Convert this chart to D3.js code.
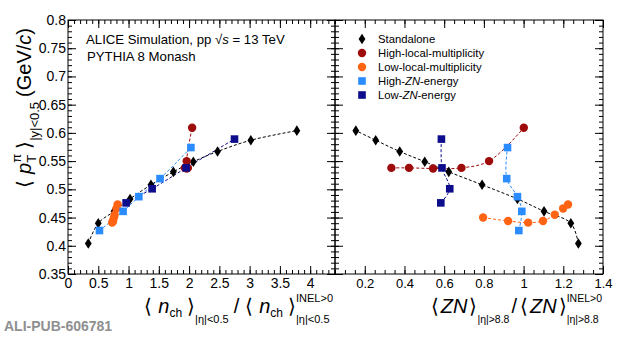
<!DOCTYPE html>
<html>
<head>
<meta charset="utf-8">
<script src="https://cdn.jsdelivr.net/npm/d3@7"></script>
<style>
body { margin: 0; background: #fff; }
text { font-family: "Liberation Sans", Arial, sans-serif; }
</style>
</head>
<body>
<svg id="chart" width="620" height="338"></svg>
<script>
/* values, one entry per event class */
var ptStandalone  = [0.404, 0.440, 0.461, 0.483, 0.508, 0.531, 0.549, 0.567, 0.587, 0.604];
var nchStandalone = [0.335, 0.50, 0.76, 1.025, 1.37, 1.74, 2.07, 2.47, 3.02, 3.78];
var znStandalone  = [1.276, 1.238, 1.103, 0.969, 0.791, 0.623, 0.502, 0.376, 0.255, 0.155];

var ptHighLocal  = [0.538, 0.538, 0.537, 0.538, 0.550, 0.609];
var nchHighLocal = [1.93, 1.95, 1.96, 1.98, 1.96, 2.05];
var znHighLocal  = [0.334, 0.423, 0.544, 0.687, 0.826, 1.001];

var ptLowLocal  = [0.450, 0.444, 0.441, 0.444, 0.455, 0.466, 0.473];
var nchLowLocal = [0.76, 0.74, 0.73, 0.745, 0.77, 0.80, 0.82];
var znLowLocal  = [0.796, 0.922, 1.023, 1.098, 1.157, 1.199, 1.224];

var ptHighZN  = [0.427, 0.461, 0.487, 0.519, 0.574];
var nchHighZN = [0.52, 0.91, 1.17, 1.52, 2.03];
var znHighZN  = [0.976, 0.991, 0.969, 0.915, 0.919];

var ptLowZN  = [0.476, 0.501, 0.538, 0.589];
var nchLowZN = [0.96, 1.39, 1.95, 2.75];
var znLowZN  = [0.583, 0.628, 0.589, 0.586];

var yTicks  = [0.35, 0.4, 0.45, 0.5, 0.55, 0.6, 0.65, 0.7, 0.75, 0.8];
var xLTicks = [0, 0.5, 1, 1.5, 2, 2.5, 3, 3.5, 4];
var xRTicks = [0.2, 0.4, 0.6, 0.8, 1, 1.2, 1.4];

var series = [
  {name: "Standalone", pt: ptStandalone, nch: nchStandalone, zn: znStandalone, color: "#000000", shape: "diamond"},
  {name: "High-local-multiplicity", pt: ptHighLocal, nch: nchHighLocal, zn: znHighLocal, color: "#9e0b0b", shape: "circle"},
  {name: "Low-local-multiplicity", pt: ptLowLocal, nch: nchLowLocal, zn: znLowLocal, color: "#ff6414", shape: "circle"},
  {name: "High-ZN-energy", pt: ptHighZN, nch: nchHighZN, zn: znHighZN, color: "#2b8cff", shape: "square"},
  {name: "Low-ZN-energy", pt: ptLowZN, nch: nchLowZN, zn: znLowZN, color: "#0c0c8c", shape: "square"}
];

var FONT = '"Liberation Sans", Arial, sans-serif';
var svg = d3.select("#chart");

/* frame edges of the two panels */
var fTop = 20, fBottom = 274, fLeft = 68, fMid = 335, fRight = 603;
var y  = d3.scaleLinear().domain([0.35, 0.8]).range([fBottom, fTop]);
var xL = d3.scaleLinear().domain([0, 4.41]).range([fLeft, fMid]);
var xR = d3.scaleLinear().domain([0.05, 1.4]).range([fMid, fRight]);

var fmt = d3.format("~g");

/* ROOT style: all ticks point into the frame */
function axis(gen, scale, vals, len, pos, labels, fsize, pad) {
  var a = gen(scale).tickValues(vals).tickSize(-len).tickPadding(pad || 3)
    .tickFormat(labels ? fmt : "");
  var g = svg.append("g").attr("transform", pos).call(a);
  g.select(".domain").remove();
  g.attr("font-family", FONT).attr("font-size", fsize || 14);
  g.selectAll("line").attr("stroke", "#000");
  g.selectAll("text").attr("fill", "#000");
  return g;
}

var yMinor  = d3.range(0.35, 0.8001, 0.01);
var xLMinor = d3.range(0, 4.41, 0.1);
var xRMinor = d3.range(0.05, 1.4001, 0.05);

// left panel
axis(d3.axisLeft, y, yMinor, 4, "translate(" + fLeft + ",0)");
axis(d3.axisLeft, y, yTicks, 8, "translate(" + fLeft + ",0)", true, 14, 2);
axis(d3.axisRight, y, yMinor, 4, "translate(" + fMid + ",0)");
axis(d3.axisRight, y, yTicks, 8, "translate(" + fMid + ",0)");
axis(d3.axisBottom, xL, xLMinor, 4, "translate(0," + fBottom + ")");
axis(d3.axisBottom, xL, xLTicks, 8, "translate(0," + fBottom + ")", true, 14, 4);
axis(d3.axisTop, xL, xLMinor, 4, "translate(0," + fTop + ")");
axis(d3.axisTop, xL, xLTicks, 8, "translate(0," + fTop + ")");

// right panel
axis(d3.axisLeft, y, yMinor, 4, "translate(" + fMid + ",0)");
axis(d3.axisLeft, y, yTicks, 8, "translate(" + fMid + ",0)");
axis(d3.axisRight, y, yMinor, 4, "translate(" + fRight + ",0)");
axis(d3.axisRight, y, yTicks, 8, "translate(" + fRight + ",0)");
axis(d3.axisBottom, xR, xRMinor, 4, "translate(0," + fBottom + ")");
axis(d3.axisBottom, xR, xRTicks, 8, "translate(0," + fBottom + ")", true, 13, 5);
axis(d3.axisTop, xR, xRMinor, 4, "translate(0," + fTop + ")");
axis(d3.axisTop, xR, xRTicks, 8, "translate(0," + fTop + ")");

svg.append("rect").attr("x", fLeft).attr("y", fTop).attr("width", fMid - fLeft).attr("height", fBottom - fTop)
  .attr("fill", "none").attr("stroke", "#000");
svg.append("rect").attr("x", fMid).attr("y", fTop).attr("width", fRight - fMid).attr("height", fBottom - fTop)
  .attr("fill", "none").attr("stroke", "#000");

var defs = svg.append("defs");
defs.append("clipPath").attr("id", "clipL").append("rect")
  .attr("x", fLeft).attr("y", fTop).attr("width", fMid - fLeft).attr("height", fBottom - fTop);
defs.append("clipPath").attr("id", "clipR").append("rect")
  .attr("x", fMid).attr("y", fTop).attr("width", fRight - fMid).attr("height", fBottom - fTop);

function marker(sel, shape) {
  if (shape === "diamond") {
    sel.append("path").attr("d", "M0,-5.3L3.4,0L0,5.3L-3.4,0Z");
  } else if (shape === "circle") {
    sel.append("circle").attr("r", 4.2);
  } else {
    sel.append("rect").attr("x", -3.8).attr("y", -3.8).attr("width", 7.6).attr("height", 7.6);
  }
}

function panel(xs, key, clip) {
  var g = svg.append("g").attr("clip-path", "url(#" + clip + ")");
  var line = d3.line()
    .x(function(d) { return xs(d[0]); })
    .y(function(d) { return y(d[1]); })
    .curve(d3.curveCatmullRom.alpha(0.5));
  series.forEach(function(s) {
    var pts = s[key].map(function(v, i) { return [v, s.pt[i]]; });
    g.append("path").attr("d", line(pts)).attr("fill", "none")
      .attr("stroke", s.color).attr("stroke-width", 1).attr("stroke-dasharray", "3,2");
  });
  series.forEach(function(s) {
    var pts = s[key].map(function(v, i) { return [v, s.pt[i]]; });
    g.selectAll(null).data(pts).enter().append("g")
      .attr("transform", function(d) { return "translate(" + xs(d[0]) + "," + y(d[1]) + ")"; })
      .attr("fill", s.color)
      .each(function() { marker(d3.select(this), s.shape); });
  });
}
panel(xL, "nch", "clipL");
panel(xR, "zn", "clipR");

// legend
var leg = svg.append("g").attr("font-family", FONT).attr("font-size", 11.3);
series.forEach(function(s, i) {
  var yy = 39 + i * 14;
  var m = leg.append("g").attr("transform", "translate(362," + yy + ")").attr("fill", s.color);
  marker(m, s.shape);
  var t = leg.append("text").attr("x", 378).attr("y", yy + 4);
  s.name.split("ZN").forEach(function(part, j) {
    if (j > 0) t.append("tspan").attr("font-style", "italic").text("ZN");
    t.append("tspan").text(part);
  });
});

// labels with sub/superscripts, laid out piece by piece
function rich(parent, parts, size) {
  var g = parent.append("g").attr("font-family", FONT);
  var x = 0;
  parts.forEach(function(p) {
    if (p.gap) { x += p.gap; return; }
    var items = p.stack || [p];
    var w = 0;
    items.forEach(function(q) {
      var t = g.append("text").attr("x", x).attr("y", q.dy || 0)
        .attr("font-size", q.size || size)
        .attr("font-style", q.it ? "italic" : null).text(q.t);
      w = Math.max(w, t.node().getComputedTextLength());
    });
    x += w;
  });
  return {g: g, width: x};
}

var yt = rich(svg, [
  {t: "\u27E8"}, {gap: 6}, {t: "p", it: true},
  {stack: [{t: "\u03C0", dy: -10, size: 13}, {t: "T", dy: 5, size: 13}]},
  {gap: 5}, {t: "\u27E9"}, {t: "|y|<0.5", dy: 8, size: 13}, {gap: 5},
  {t: "(GeV/"}, {t: "c", it: true}, {t: ")"}
], 20);
yt.g.attr("transform", "translate(31," + (28 + yt.width) + ") rotate(-90)");

var xtL = rich(svg, [
  {t: "\u27E8"}, {gap: 6}, {t: "n", it: true}, {t: "ch", dy: 4, size: 12}, {gap: 5}, {t: "\u27E9"},
  {t: "|\u03B7|<0.5", dy: 10, size: 11}, {gap: 5}, {t: "/"}, {gap: 6},
  {t: "\u27E8"}, {gap: 6}, {t: "n", it: true}, {t: "ch", dy: 4, size: 12}, {gap: 5}, {t: "\u27E9"},
  {stack: [{t: "INEL>0", dy: -11, size: 11}, {t: "|\u03B7|<0.5", dy: 10, size: 11}]}
], 20);
xtL.g.attr("transform", "translate(" + (333 - xtL.width) + ",313)");

var xtR = rich(svg, [
  {t: "\u27E8"}, {gap: 2}, {t: "ZN", it: true}, {gap: 2}, {t: "\u27E9"},
  {t: "|\u03B7|>8.8", dy: 10, size: 10.5}, {gap: 2}, {t: "/"}, {gap: 3},
  {t: "\u27E8"}, {gap: 2}, {t: "ZN", it: true}, {gap: 2}, {t: "\u27E9"},
  {stack: [{t: "INEL>0", dy: -11, size: 10.5}, {t: "|\u03B7|>8.8", dy: 10, size: 10.5}]}
], 20);
xtR.g.attr("transform", "translate(" + (602 - xtR.width) + ",313)");

// header text
var hd = svg.append("text").attr("x", 86).attr("y", 44).attr("font-size", 13.2).attr("font-family", FONT);
hd.append("tspan").text("ALICE Simulation, pp \u221A");
hd.append("tspan").attr("font-style", "italic").text("s");
hd.append("tspan").text(" = 13 TeV");
svg.append("text").attr("x", 87).attr("y", 61).attr("font-size", 13.2).attr("font-family", FONT)
  .text("PYTHIA 8 Monash");

svg.append("text").attr("x", 4).attr("y", 331)
  .attr("font-family", '"Liberation Mono", "DejaVu Sans Mono", monospace')
  .attr("font-weight", "bold").attr("font-size", 14).attr("fill", "#8f8f8f")
  .text("ALI-PUB-606781");
</script>
</body>
</html>
